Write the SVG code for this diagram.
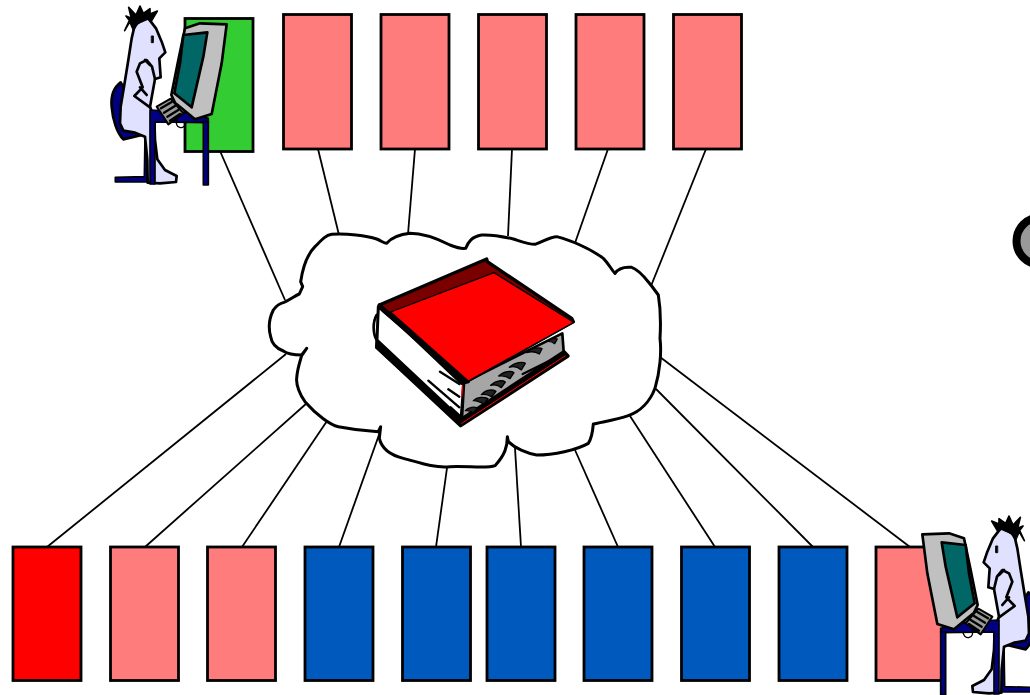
<svg xmlns="http://www.w3.org/2000/svg" xmlns:xlink="http://www.w3.org/1999/xlink" width="1030" height="695" viewBox="0 0 1030 695">
<style>
.box{stroke:#000;stroke-width:2.8}
.pink{fill:#ff7c7c}.blue{fill:#0059bd}.red{fill:#f00}.green{fill:#33cc33}
#connectors line{stroke:#000;stroke-width:1.8}
.o{stroke:#000;stroke-linejoin:round;stroke-linecap:round}
</style>
<defs>
<g id="user">
<g class="o" stroke-width="8">
<path fill="#000080" d="M62 247C42 262 32 285 35 320C38 360 52 400 70 418L138 402L135 365Z"/>
<path fill="#000080" stroke-width="5" d="M135 405L133 530L46 532L46 546L145 546L148 405Z"/>
<path fill="#e0e0ff" d="M105 72L95 115L85 180L72 260L62 320L60 370L70 392L105 398L135 410L142 480L143 548L180 550L228 546L230 528L195 510L172 478L165 420L163 352L150 320L165 237L182 232L178 175L196 157L185 125L168 85L145 55Z"/>
<path fill="none" d="M165 237L156 200L140 180L120 190L110 215L128 262L103 288L150 322M135 180L150 195M120 262L140 285"/>
<path fill="#000" stroke-width="5" d="M100 90L88 62L74 92L90 64L78 48L94 55L86 22L108 45L120 18L130 40L150 26L150 42L172 33L155 62L135 55L112 72Z"/>
<path fill="#000" stroke-width="3" d="M155 108L160 108L160 128L155 128Z"/>
<path fill="#000080" stroke-width="5" d="M150 330L240 335L325 355L325 368L165 366L165 552L150 552Z"/>
<path fill="#000080" stroke-width="5" d="M310 365L325 365L325 555L310 555Z"/>
<path fill="none" stroke-width="4" d="M230 360C225 385 250 392 258 368"/>
<path fill="#c0c0c0" d="M255 85L300 70L380 73L365 190L335 342L285 358L225 308L214 285L235 180Z"/>
<path fill="#006666" d="M250 105L322 97L310 170L275 322L223 280L240 190Z"/>
<path fill="#999" stroke-width="6" d="M170 320L212 296L250 340L205 373Z"/>
<path fill="none" stroke-width="7" d="M183 325L215 306M192 338L225 318M202 350L235 330M210 362L240 342"/>
</g>
</g>
</defs>

<g id="node-top-1"><rect class="box green" x="185" y="18.500" width="68" height="133"/></g>
<g id="node-top-2"><rect class="box pink" x="283.500" y="14.500" width="68" height="134.500"/></g>
<g id="node-top-3"><rect class="box pink" x="381" y="14.500" width="68" height="134.500"/></g>
<g id="node-top-4"><rect class="box pink" x="478.500" y="14.500" width="68" height="134.500"/></g>
<g id="node-top-5"><rect class="box pink" x="576" y="14.500" width="68" height="134.500"/></g>
<g id="node-top-6"><rect class="box pink" x="673.500" y="14.500" width="68" height="134.500"/></g>

<g id="node-bottom-1"><rect class="box red" x="13" y="547" width="68" height="133.500"/></g>
<g id="node-bottom-2"><rect class="box pink" x="110.500" y="547" width="68" height="133.500"/></g>
<g id="node-bottom-3"><rect class="box pink" x="207.500" y="547" width="68" height="133.500"/></g>
<g id="node-bottom-4"><rect class="box blue" x="305" y="547" width="68" height="133.500"/></g>
<g id="node-bottom-5"><rect class="box blue" x="402.500" y="547" width="68" height="133.500"/></g>
<g id="node-bottom-6"><rect class="box blue" x="487" y="547" width="68" height="133.500"/></g>
<g id="node-bottom-7"><rect class="box blue" x="584" y="547" width="68" height="133.500"/></g>
<g id="node-bottom-8"><rect class="box blue" x="681.500" y="547" width="68" height="133.500"/></g>
<g id="node-bottom-9"><rect class="box blue" x="779" y="547" width="68" height="133.500"/></g>
<g id="node-bottom-10"><rect class="box pink" x="876" y="547" width="68" height="133.500"/></g>

<g id="connectors">
<line x1="220" y1="151" x2="285" y2="300"/>
<line x1="318" y1="149" x2="339" y2="235"/>
<line x1="415" y1="149" x2="408" y2="234"/>
<line x1="512" y1="149" x2="508" y2="236"/>
<line x1="608" y1="149" x2="575" y2="243"/>
<line x1="706" y1="149" x2="651" y2="286"/>
<line x1="47" y1="547" x2="286" y2="354"/>
<line x1="145" y1="547" x2="307" y2="403"/>
<line x1="242" y1="547" x2="327" y2="421"/>
<line x1="339" y1="547" x2="380" y2="432"/>
<line x1="436" y1="547" x2="447" y2="468"/>
<line x1="521" y1="547" x2="515" y2="448"/>
<line x1="618" y1="547" x2="575" y2="450"/>
<line x1="715" y1="547" x2="630" y2="416"/>
<line x1="813" y1="547" x2="656" y2="389"/>
<line x1="910" y1="547" x2="660" y2="357"/>
</g>

<g id="node-cloud" transform="translate(260 225) scale(.33333)">
<path class="o" fill="#fff" stroke-width="9" d="M118 207L128 185L122 170C128 130 140 90 165 65C185 45 195 32 215 28C260 25 320 32 350 42C365 48 372 55 380 55C395 38 420 28 450 25C490 25 530 40 570 60C590 68 605 72 617 70C625 50 635 35 665 30C700 28 730 35 760 42C785 50 805 58 825 58C850 50 870 35 890 35C930 45 990 70 1030 100C1045 115 1055 135 1065 145C1075 130 1095 125 1115 127C1140 135 1160 165 1175 183L1195 210C1200 240 1203 290 1200 340C1205 380 1200 440 1185 490C1170 530 1140 560 1105 572C1070 585 1030 590 1000 597C998 620 995 640 985 655C950 675 880 690 830 690C800 685 765 670 745 650L742 635C742 665 735 690 705 722C680 732 620 722 570 725C520 730 470 710 430 700C390 690 365 670 358 640L362 605L355 620C320 618 270 612 235 605C210 600 170 570 135 530C120 510 108 480 110 460C112 430 120 410 125 392L140 370L125 390C100 390 80 385 70 378C50 370 35 355 32 335C25 310 25 285 40 255C50 240 60 235 72 232C90 225 105 212 118 207Z"/>
</g>

<g id="node-book" transform="translate(360 250) scale(.33333)">
<g class="o">
<path fill="none" stroke-width="8" d="M50 195C38 215 38 250 50 270"/>
<path fill="#fff" stroke-width="9" d="M55 170L50 292L302 522L312 395Z"/>
<path fill="#a6a6a6" stroke-width="8" d="M312 398L607 250L612 318L305 522Z"/>
<path fill="#000" stroke-width="10" d="M50 292L302 527L624 318L612 305L303 508L52 272Z"/>
<path fill="none" stroke="#f00" stroke-width="3" d="M305 520L615 318"/>
<path fill="#7a0000" stroke-width="10" d="M58 165L380 27L382 35L635 205L640 215L325 392Z"/>
<path fill="#000" stroke-width="10" d="M58 165L70 182L325 395L305 400Z"/>
<path fill="#f00" stroke="#000" stroke-width="4" d="M92 186L402 68L642 217L325 393Z"/>
<path fill="none" stroke-width="7" d="M240 365L298 402M205 392L298 472M265 418L298 440M272 472L298 496M488 372L590 322"/>
<path fill="none" stroke="#f00" stroke-width="4" d="M307 408L305 440"/>
</g>
<g fill="#222" stroke="#000" stroke-width="4" stroke-linejoin="round">
<path d="M500 308C515 292 540 292 546 296L538 312C525 304 512 304 500 308Z"/>
<path d="M448 352C465 335 490 335 496 340L484 360C472 350 460 348 448 352Z"/>
<path d="M416 378C432 362 455 362 462 368L450 386C440 378 430 376 416 378Z"/>
<path d="M392 406C408 390 428 390 436 396L424 413C415 405 405 403 392 406Z"/>
<path d="M364 434C378 417 398 418 408 424L395 441C385 434 375 432 364 434Z"/>
<path d="M340 452C352 440 372 440 384 446L372 463C360 455 350 452 340 452Z"/>
<path d="M316 482C325 470 345 470 352 474L340 489C332 483 325 481 316 482Z"/>
<path d="M565 274C575 264 585 264 592 267L584 281C578 275 572 274 565 274Z"/>
</g>
</g>

<g id="node-user-left" transform="translate(100 0) scale(.33333)"><use xlink:href="#user" href="#user"/></g>
<g id="node-user-right" transform="translate(1049 510) scale(-.33333 .33333)"><use xlink:href="#user" href="#user"/></g>

<g id="node-edge"><ellipse cx="1040" cy="241" rx="23.500" ry="23.500" fill="#999" stroke="#000" stroke-width="8"/></g>
</svg>
